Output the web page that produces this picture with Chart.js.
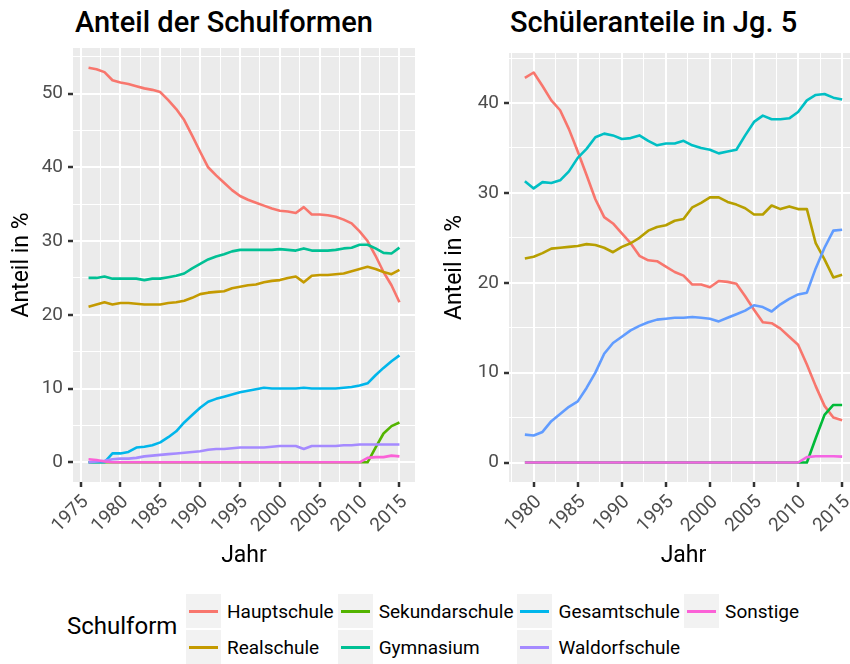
<!DOCTYPE html>
<html lang="de">
<head>
<meta charset="utf-8">
<title>Schulformen</title>
<script src="https://cdn.jsdelivr.net/npm/chart.js@4.4.1/dist/chart.umd.min.js"></script>
<style>
  html, body { margin: 0; padding: 0; background: #fff; }
  body { width: 850px; height: 664px; overflow: hidden; position: relative; font-family: Roboto, sans-serif; }
  canvas { position: absolute; top: 0; }
  #chartGesamt { left: 0; }
  #chartJg5 { left: 425px; }
  .titel { position: absolute; top: 5px; font-size: 29px; font-weight: 500; color: #000; white-space: nowrap; }
  #legende { position: absolute; left: 0; top: 594px; height: 70px; }
  #legendeTitel { position: absolute; left: 67px; top: 18px; font-size: 24px; color: #000; white-space: nowrap; }
  #legendeEintraege { position: absolute; left: 186px; top: 0; display: grid; grid-template-rows: 34px 34px; row-gap: 2px; grid-auto-flow: column; column-gap: 4px; }
  .eintrag { display: flex; align-items: center; }
  .schluessel { width: 35px; height: 34px; background: #F2F2F2; position: relative; }
  .schluessel span { position: absolute; left: 3px; right: 3px; top: 16px; height: 2.7px; }
  .eintrag label { margin-left: 6px; font-size: 19px; color: #000; white-space: nowrap; }
</style>
</head>
<body>
<div class="titel" style="left:75px">Anteil der Schulformen</div>
<div class="titel" style="left:510px">Schüleranteile in Jg. 5</div>
<canvas id="chartGesamt" width="425" height="580"></canvas>
<canvas id="chartJg5" width="445" height="580"></canvas>
<div id="legende">
  <div id="legendeTitel">Schulform</div>
  <div id="legendeEintraege"></div>
</div>
<script>
// Anteil der Schulformen an allen Schülern (1976-2015)
const jahreGesamt = [1976, 1977, 1978, 1979, 1980, 1981, 1982, 1983, 1984, 1985,
    1986, 1987, 1988, 1989, 1990, 1991, 1992, 1993, 1994, 1995,
    1996, 1997, 1998, 1999, 2000, 2001, 2002, 2003, 2004, 2005,
    2006, 2007, 2008, 2009, 2010, 2011, 2012, 2013, 2014, 2015];

const hauptschuleGesamt = [53.5, 53.3, 52.9, 51.8, 51.5, 51.3, 51.0, 50.7, 50.5, 50.2,
    49.1, 47.9, 46.4, 44.3, 42.1, 40.0, 38.9, 37.9, 36.9, 36.1,
    35.6, 35.2, 34.8, 34.4, 34.1, 34.0, 33.8, 34.6, 33.6, 33.6,
    33.5, 33.3, 32.9, 32.4, 31.3, 30.0, 28.0, 25.8, 24.0, 21.7];
const realschuleGesamt = [21.1, 21.4, 21.7, 21.4, 21.6, 21.6, 21.5, 21.4, 21.4, 21.4,
    21.6, 21.7, 21.9, 22.3, 22.8, 23.0, 23.1, 23.2, 23.6, 23.8,
    24.0, 24.1, 24.4, 24.6, 24.7, 25.0, 25.2, 24.4, 25.3, 25.4,
    25.4, 25.5, 25.6, 25.9, 26.2, 26.5, 26.2, 25.8, 25.5, 26.1];
const sekundarschuleGesamt = [0, 0, 0, 0, 0, 0, 0, 0, 0, 0,
    0, 0, 0, 0, 0, 0, 0, 0, 0, 0,
    0, 0, 0, 0, 0, 0, 0, 0, 0, 0,
    0, 0, 0, 0, 0, 0, 2.0, 3.9, 4.9, 5.4];
const gymnasiumGesamt = [25.0, 25.0, 25.2, 24.9, 24.9, 24.9, 24.9, 24.7, 24.9, 24.9,
    25.1, 25.3, 25.6, 26.3, 26.9, 27.5, 27.9, 28.2, 28.6, 28.8,
    28.8, 28.8, 28.8, 28.8, 28.9, 28.8, 28.7, 29.0, 28.7, 28.7,
    28.7, 28.8, 29.0, 29.1, 29.5, 29.5, 29.0, 28.4, 28.3, 29.1];
const gesamtschuleGesamt = [0.0, 0.0, 0.0, 1.2, 1.2, 1.4, 2.0, 2.1, 2.3, 2.7,
    3.4, 4.2, 5.4, 6.4, 7.4, 8.2, 8.6, 8.9, 9.2, 9.5,
    9.7, 9.9, 10.1, 10.0, 10.0, 10.0, 10.0, 10.1, 10.0, 10.0,
    10.0, 10.0, 10.1, 10.2, 10.4, 10.7, 11.8, 12.8, 13.7, 14.5];
const waldorfschuleGesamt = [0.0, 0.1, 0.2, 0.4, 0.5, 0.5, 0.6, 0.8, 0.9, 1.0,
    1.1, 1.2, 1.3, 1.4, 1.5, 1.7, 1.8, 1.8, 1.9, 2.0,
    2.0, 2.0, 2.0, 2.1, 2.2, 2.2, 2.2, 1.8, 2.2, 2.2,
    2.2, 2.2, 2.3, 2.3, 2.4, 2.4, 2.4, 2.4, 2.4, 2.4];
const sonstigeGesamt = [0.4, 0.3, 0.1, 0, 0, 0, 0, 0, 0, 0,
    0, 0, 0, 0, 0, 0, 0, 0, 0, 0,
    0, 0, 0, 0, 0, 0, 0, 0, 0, 0,
    0, 0, 0, 0, 0, 0.6, 0.7, 0.7, 0.9, 0.8];

// Schüleranteile in Jahrgangsstufe 5 (1979-2015)
const jahreJg5 = [1979, 1980, 1981, 1982, 1983, 1984, 1985, 1986, 1987, 1988,
    1989, 1990, 1991, 1992, 1993, 1994, 1995, 1996, 1997, 1998,
    1999, 2000, 2001, 2002, 2003, 2004, 2005, 2006, 2007, 2008,
    2009, 2010, 2011, 2012, 2013, 2014, 2015];

const hauptschuleJg5 = [42.8, 43.4, 41.9, 40.3, 39.2, 37.1, 34.6, 32.0, 29.3, 27.3,
    26.6, 25.5, 24.4, 23.0, 22.5, 22.4, 21.8, 21.2, 20.8, 19.8,
    19.8, 19.5, 20.2, 20.1, 19.9, 18.5, 17.0, 15.6, 15.5, 14.9,
    14.0, 13.1, 10.9, 8.5, 6.3, 5.0, 4.7];
const realschuleJg5 = [22.7, 22.9, 23.3, 23.8, 23.9, 24.0, 24.1, 24.3, 24.2, 23.9,
    23.4, 24.0, 24.4, 25.0, 25.8, 26.2, 26.4, 26.9, 27.1, 28.4,
    28.9, 29.5, 29.5, 29.0, 28.7, 28.3, 27.6, 27.6, 28.6, 28.2,
    28.5, 28.2, 28.2, 24.4, 22.6, 20.6, 20.9];
const sekundarschuleJg5 = [0, 0, 0, 0, 0, 0, 0, 0, 0, 0,
    0, 0, 0, 0, 0, 0, 0, 0, 0, 0,
    0, 0, 0, 0, 0, 0, 0, 0, 0, 0,
    0, 0, 0, 2.7, 5.3, 6.4, 6.4];
const gymnasiumJg5 = [31.3, 30.5, 31.2, 31.1, 31.4, 32.4, 33.9, 34.9, 36.2, 36.6,
    36.4, 36.0, 36.1, 36.4, 35.8, 35.3, 35.5, 35.5, 35.8, 35.3,
    35.0, 34.8, 34.4, 34.6, 34.8, 36.4, 37.9, 38.6, 38.2, 38.2,
    38.3, 39.0, 40.3, 40.9, 41.0, 40.6, 40.4];
const gesamtschuleJg5 = [3.1, 3.0, 3.4, 4.6, 5.4, 6.2, 6.8, 8.3, 10.0, 12.1,
    13.3, 14.0, 14.7, 15.2, 15.6, 15.9, 16.0, 16.1, 16.1, 16.2,
    16.1, 16.0, 15.7, 16.1, 16.5, 16.9, 17.5, 17.3, 16.8, 17.6,
    18.2, 18.7, 18.9, 21.6, 23.9, 25.8, 25.9];
const sonstigeJg5 = [0, 0, 0, 0, 0, 0, 0, 0, 0, 0,
    0, 0, 0, 0, 0, 0, 0, 0, 0, 0,
    0, 0, 0, 0, 0, 0, 0, 0, 0, 0,
    0, 0, 0.6, 0.7, 0.7, 0.7, 0.65];

// Schulformen und Farben (ggplot-Standardpalette)
const schulformenGesamt = ["Hauptschule", "Realschule", "Sekundarschule", "Gymnasium", "Gesamtschule", "Waldorfschule", "Sonstige"];
const farbenGesamt = ["#F8766D", "#C49A00", "#53B400", "#00C094", "#00B6EB", "#A58AFF", "#FB61D7"];
const reihenGesamt = [hauptschuleGesamt, realschuleGesamt, sekundarschuleGesamt, gymnasiumGesamt, gesamtschuleGesamt, waldorfschuleGesamt, sonstigeGesamt];

const schulformenJg5 = ["Hauptschule", "Realschule", "Sekundarschule", "Gymnasium", "Gesamtschule", "Sonstige"];
const farbenJg5 = ["#F8766D", "#B79F00", "#00BA38", "#00BFC4", "#619CFF", "#F564E3"];
const reihenJg5 = [hauptschuleJg5, realschuleJg5, sekundarschuleJg5, gymnasiumJg5, gesamtschuleJg5, sonstigeJg5];

// Achsenbeschriftungen
const jahrTicksGesamt = [1975, 1980, 1985, 1990, 1995, 2000, 2005, 2010, 2015];
const jahrTicksJg5 = [1980, 1985, 1990, 1995, 2000, 2005, 2010, 2015];
const anteilTicksGesamt = [0, 10, 20, 30, 40, 50];
const anteilTicksJg5 = [0, 10, 20, 30, 40];

const schrift = "Roboto";

// grauer Panel-Hintergrund
const panelHintergrund = {
    id: "panelHintergrund",
    beforeDraw(chart) {
        const a = chart.chartArea;
        const ctx = chart.ctx;
        ctx.save();
        ctx.fillStyle = "#EBEBEB";
        ctx.fillRect(a.left, a.top, a.right - a.left, a.bottom - a.top);
        ctx.restore();
    }
};

// Bereich um 5 % erweitern, wie bei ggplot
function erweitern(werte) {
    const lo = Math.min(...werte);
    const hi = Math.max(...werte);
    const pad = (hi - lo) * 0.05;
    return [lo - pad, hi + pad];
}

// Haupt- und Nebengitter innerhalb des Bereichs
function gitter(haupt, bereich) {
    const schritt = haupt[1] - haupt[0];
    const alle = [];
    for (let v = haupt[0] - schritt / 2; v <= bereich[1]; v += schritt / 2) {
        if (v >= bereich[0]) alle.push(v);
    }
    return alle;
}

function achse(haupt, bereich, titel, extra) {
    const werte = gitter(haupt, bereich);
    const istHaupt = v => haupt.includes(v);
    return Object.assign({
        type: "linear",
        min: bereich[0],
        max: bereich[1],
        bounds: "data",
        afterBuildTicks: s => { s.ticks = werte.map(v => ({ value: v })); },
        border: { display: false },
        grid: {
            color: "#FFFFFF",
            lineWidth: c => (c.tick && istHaupt(c.tick.value) ? 2 : 1),
            tickColor: c => (c.tick && istHaupt(c.tick.value) ? "#333333" : "rgba(0,0,0,0)"),
            tickWidth: 2.5,
            tickLength: 5
        },
        title: {
            display: true,
            text: titel,
            color: "#000000",
            font: { family: schrift, size: 23 }
        }
    }, extra);
}

function panel(canvasId, jahre, reihen, namen, farben, jahrTicks, anteilTicks, opt) {
    const xBereich = erweitern(jahre);
    const alleWerte = [].concat(...reihen);
    const yBereich = erweitern(alleWerte);

    const datasets = reihen.map((reihe, i) => ({
        label: namen[i],
        data: jahre.map((j, k) => ({ x: j, y: reihe[k] })),
        borderColor: farben[i],
        backgroundColor: farben[i],
        borderWidth: 2.6,
        pointRadius: 0,
        tension: 0,
        borderJoinStyle: "round",
        order: reihen.length - i
    }));

    const x = achse(jahrTicks, xBereich, "Jahr", {
        afterFit: s => { s.height = 98; },
        ticks: {
            autoSkip: false,
            minRotation: 45,
            maxRotation: 45,
            padding: 4,
            labelOffset: 5,
            color: "#4D4D4D",
            font: { family: schrift, size: 19 },
            callback: v => (jahrTicks.includes(v) ? String(v) : "")
        }
    });
    x.title.padding = { top: 0, bottom: 10 };

    const y = achse(anteilTicks, yBereich, "Anteil in %", {
        afterFit: s => { s.width = opt.yBreite; },
        ticks: {
            autoSkip: false,
            padding: 5,
            color: "#4D4D4D",
            font: { family: schrift, size: 19 },
            callback: v => (anteilTicks.includes(v) ? String(v) : "")
        }
    });
    y.title.padding = { top: opt.yTitelAbstand, bottom: 0 };

    return new Chart(document.getElementById(canvasId), {
        type: "line",
        data: { datasets: datasets },
        options: {
            responsive: false,
            animation: false,
            devicePixelRatio: 1,
            layout: { padding: { top: opt.oben, right: opt.rechts, left: 0, bottom: 0 } },
            plugins: { legend: { display: false }, tooltip: { enabled: false } },
            scales: { x: x, y: y }
        },
        plugins: [panelHintergrund]
    });
}

panel("chartGesamt", jahreGesamt, reihenGesamt, schulformenGesamt, farbenGesamt,
    jahrTicksGesamt, anteilTicksGesamt, { yBreite: 73, yTitelAbstand: 8, oben: 48, rechts: 10 });

panel("chartJg5", jahreJg5, reihenJg5, schulformenJg5, farbenJg5,
    jahrTicksJg5, anteilTicksJg5, { yBreite: 84, yTitelAbstand: 16, oben: 53, rechts: 12 });

// Legende: zwei Zeilen, spaltenweise gefüllt
const legende = document.getElementById("legendeEintraege");
schulformenGesamt.forEach(function (name, i) {
    const eintrag = document.createElement("div");
    eintrag.className = "eintrag";
    eintrag.innerHTML = '<div class="schluessel"><span style="background:' + farbenGesamt[i] + '"></span></div><label>' + name + "</label>";
    legende.appendChild(eintrag);
});
</script>
</body>
</html>
